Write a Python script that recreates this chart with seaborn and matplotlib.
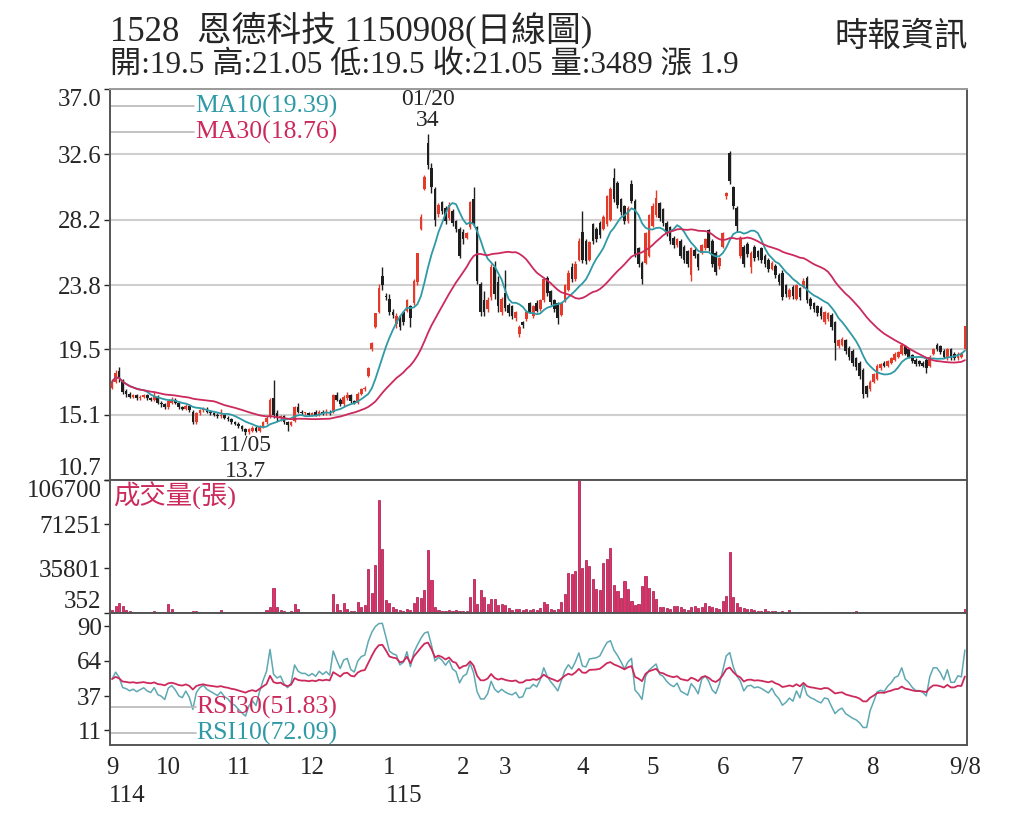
import numpy as np
import pandas as pd
import seaborn as sns
import matplotlib
matplotlib.use('Agg')
import matplotlib.pyplot as plt

# %% Daily data (one row per trading day, 114/09 .. 115/09/08).

opens = [
    16.9, 17.3, 18.0, 17.4, 16.7, 16.5, 16.3, 16.4, 16.2, 16.3, 16.4, 16.2, 16.1, 16.3, 15.9, 15.8,  # Sep
    15.6, 15.9, 16.1, 15.9, 15.6, 15.5, 15.7, 15.3, 14.6, 15.2, 15.4, 15.5, 15.3, 15.2, 15.1, 15.0, 15.1, 14.9, 14.8, 14.6,  # Oct
    14.5, 14.3, 14.1, 13.9, 14.0, 14.2, 14.0, 14.3, 14.6, 15.0, 16.2, 15.2, 14.9, 15.0, 14.6, 14.4, 14.7, 15.6, 15.3, 15.2, 15.2,  # Nov
    15.1, 15.3, 15.1, 15.3, 15.2, 15.3, 15.3, 16.4, 16.1, 15.8, 16.2, 16.4, 16.0, 15.9, 16.5, 16.8, 17.7, 19.5, 21.0, 22.0, 24.4, 23.1,  # Dec
    22.9, 22.0, 21.2, 21.7, 22.0, 22.1, 22.4, 22.6, 24.0, 27.6, 30.3, 33.4, 31.7, 30.3, 28.6, 29.4, 29.0, 28.3, 28.8, 28.1, 27.6,  # Jan
    27.4, 27.0, 27.7, 29.6, 27.7, 23.9, 22.8, 22.2, 23.0, 25.0, 24.0, 22.0,  # Feb
    23.3, 22.5, 22.4, 21.6, 20.5, 21.3, 21.5, 22.6, 21.7, 22.6, 22.2, 22.8, 24.3, 23.4, 22.8, 22.6, 21.8, 22.8, 23.5, 25.0, 24.2, 25.5,  # Mar
    27.4, 26.8, 25.5, 27.9, 27.6, 28.0, 27.6, 27.9, 28.2, 31.0, 30.7, 29.6, 29.1, 28.1, 30.6, 29.5, 26.3, 25.3, 25.3, 25.8,  # Apr
    27.8, 28.5, 29.3, 28.9, 28.0, 27.7, 27.0, 26.5, 26.8, 26.4, 26.1, 24.5, 26.2, 25.9, 26.0, 26.3, 27.5, 26.8, 26.0, 25.1,  # May
    26.4, 29.8, 32.7, 30.4, 29.0, 25.8, 26.4, 26.6, 25.0, 26.4, 26.1, 26.3, 25.8, 25.5, 24.9, 25.1, 24.5, 24.6, 23.8, 23.0, 23.7,  # Jun
    22.9, 23.6, 23.7, 24.3, 22.9, 22.6, 22.4, 22.3, 21.3, 21.5, 21.8, 21.3, 19.7, 19.8, 20.1, 19.6, 19.4, 18.9, 18.6, 18.1, 17.0, 16.8,  # Jul
    17.3, 17.5, 18.2, 18.6, 18.4, 18.6, 18.8, 19.0, 19.2, 19.7, 19.5, 19.1, 18.8, 18.7, 18.6, 18.8, 18.4, 19.2, 19.8, 19.7, 19.4,  # Aug
    18.9, 19.5, 19.2, 18.9, 19.0, 19.5,  # Sep
]
closes = [
    17.3, 17.9, 17.5, 16.6, 16.5, 16.3, 16.4, 16.2, 16.3, 16.4, 16.2, 16.1, 16.3, 15.9, 15.8, 15.6,
    16.0, 16.1, 15.9, 15.6, 15.5, 15.7, 15.4, 14.6, 15.2, 15.4, 15.5, 15.3, 15.2, 15.1, 15.0, 15.1, 14.9, 14.8, 14.6, 14.5,
    14.3, 14.1, 13.9, 14.1, 14.2, 14.0, 14.3, 14.6, 14.9, 16.1, 15.1, 14.9, 15.0, 14.6, 14.4, 14.6, 15.6, 15.3, 15.2, 15.2, 15.1,
    15.2, 15.1, 15.3, 15.2, 15.3, 15.2, 16.4, 16.1, 15.8, 16.3, 16.4, 16.0, 15.9, 16.5, 16.8, 16.9, 18.2, 19.9, 21.9, 23.6, 23.8, 23.0,
    22.0, 21.8, 21.7, 21.0, 21.3, 22.8, 21.6, 24.1, 26.0, 28.4, 31.1, 31.9, 30.4, 28.2, 29.2, 28.8, 28.1, 29.2, 28.0, 27.6, 25.8,
    26.9, 27.3, 29.4, 28.0, 24.1, 22.0, 22.0, 22.8, 25.0, 23.2, 22.4, 22.9,
    22.3, 21.9, 21.7, 22.0, 21.0, 21.1, 22.0, 22.0, 22.4, 22.1, 22.8, 24.2, 23.3, 22.7, 22.2, 21.6, 22.6, 23.8, 24.6, 24.2, 25.2, 26.8,
    25.5, 25.4, 26.7, 26.8, 26.9, 27.2, 28.4, 29.8, 30.3, 29.6, 29.2, 28.7, 28.1, 29.0, 29.5, 25.9, 25.2, 24.2, 27.3, 28.5,
    29.1, 29.7, 28.3, 28.0, 27.3, 26.8, 26.5, 26.9, 25.8, 25.5, 25.2, 26.3, 25.8, 25.0, 26.5, 26.9, 26.3, 25.2, 24.7, 25.6,
    27.3, 30.0, 30.8, 29.1, 27.8, 27.0, 25.2, 25.9, 26.0, 25.6, 25.7, 25.5, 25.2, 24.9, 25.3, 24.5, 24.0, 23.0, 23.2, 23.5, 23.1,
    23.8, 23.0, 24.1, 22.8, 22.4, 22.2, 21.9, 21.7, 22.0, 21.9, 21.0, 19.9, 20.1, 20.2, 19.4, 19.0, 18.6, 18.3, 17.7, 16.5, 16.5, 17.3,
    17.8, 18.4, 18.5, 18.4, 18.7, 18.9, 19.2, 19.3, 19.8, 19.2, 19.0, 18.7, 18.5, 18.5, 18.4, 18.2, 19.0, 19.5, 19.5, 19.3, 19.0,
    19.5, 18.9, 18.9, 19.2, 19.15, 21.05,
]
highs = [
    17.5, 18.1, 18.3, 17.5, 16.8, 16.6, 16.5, 16.5, 16.4, 16.5, 16.5, 16.3, 16.6, 16.4, 16.0, 15.9,
    16.1, 16.3, 16.2, 16.0, 15.7, 15.8, 15.8, 15.4, 15.3, 15.5, 15.6, 15.6, 15.4, 15.3, 15.2, 15.5, 15.2, 15.0, 14.9, 14.7,
    14.6, 14.4, 14.2, 14.2, 14.3, 14.3, 14.4, 14.7, 15.0, 16.2, 17.4, 15.4, 15.1, 15.1, 14.7, 14.7, 15.7, 15.9, 15.4, 15.3, 15.3,
    15.3, 15.4, 15.4, 15.4, 15.5, 15.4, 16.5, 16.6, 16.2, 16.4, 16.6, 16.5, 16.1, 16.6, 16.9, 17.0, 18.3, 20.0, 21.9, 23.9, 25.0, 23.3,
    23.2, 22.2, 21.9, 21.8, 22.1, 22.9, 22.5, 24.2, 26.0, 28.6, 31.2, 34.0, 32.0, 30.4, 29.3, 29.5, 29.1, 29.4, 28.9, 28.2, 27.7,
    27.6, 27.4, 29.5, 30.4, 27.8, 24.0, 23.4, 23.0, 25.2, 25.4, 24.4, 23.0,
    24.8, 22.6, 22.5, 22.1, 21.1, 21.4, 22.1, 22.7, 22.5, 22.8, 22.9, 24.3, 24.4, 23.5, 22.9, 22.7, 22.7, 23.9, 24.8, 25.3, 25.4, 27.0,
    28.8, 26.9, 26.8, 28.0, 27.7, 28.1, 28.5, 29.9, 30.4, 31.7, 30.8, 29.7, 29.2, 29.1, 30.9, 29.6, 26.4, 25.4, 27.4, 28.6,
    29.3, 30.2, 29.4, 29.0, 28.1, 27.8, 27.1, 27.0, 26.9, 26.5, 26.2, 26.4, 26.3, 26.0, 26.6, 27.0, 27.6, 26.9, 26.1, 25.7,
    27.4, 30.1, 32.8, 30.5, 29.1, 27.1, 26.5, 26.7, 26.1, 26.5, 26.2, 26.4, 25.9, 25.6, 25.4, 25.2, 24.6, 24.8, 23.9, 23.6, 23.8,
    23.9, 23.7, 24.3, 24.4, 23.0, 22.7, 22.5, 22.4, 22.1, 22.0, 21.9, 21.4, 20.2, 20.3, 20.2, 19.7, 19.5, 19.0, 18.7, 18.2, 17.1, 17.4,
    17.9, 18.5, 18.6, 18.7, 18.8, 19.0, 19.3, 19.4, 19.9, 19.8, 19.6, 19.2, 18.9, 18.8, 18.7, 18.9, 19.1, 19.6, 19.9, 19.8, 19.5,
    19.6, 19.6, 19.3, 19.3, 19.3, 21.05,
]
lows = [
    16.8, 17.2, 17.3, 16.5, 16.3, 16.2, 16.2, 16.1, 16.1, 16.2, 16.1, 16.0, 16.0, 15.8, 15.6, 15.5,
    15.5, 15.8, 15.8, 15.5, 15.4, 15.4, 15.3, 14.5, 14.5, 15.1, 15.3, 15.2, 15.1, 15.0, 14.9, 14.9, 14.8, 14.7, 14.5, 14.4,
    14.2, 14.0, 13.7, 13.8, 13.9, 13.9, 13.9, 14.2, 14.5, 14.9, 14.9, 14.7, 14.7, 14.5, 14.0, 14.3, 14.6, 15.2, 15.1, 15.1, 15.0,
    15.0, 15.0, 15.0, 15.1, 15.1, 15.1, 15.2, 16.0, 15.7, 15.7, 16.1, 15.9, 15.8, 15.8, 16.4, 16.7, 17.6, 19.4, 20.9, 21.9, 23.5, 22.8,
    21.8, 21.6, 20.9, 20.8, 21.1, 22.0, 21.0, 22.5, 23.8, 27.5, 30.2, 31.6, 30.0, 27.8, 28.4, 28.6, 27.9, 28.2, 27.8, 27.4, 25.6,
    26.6, 26.9, 27.6, 27.8, 23.9, 21.7, 21.7, 22.0, 22.8, 22.9, 22.0, 21.8,
    22.1, 21.7, 21.5, 21.4, 20.3, 20.9, 21.4, 21.9, 21.6, 22.0, 22.1, 22.7, 23.1, 22.5, 22.0, 21.2, 21.7, 22.7, 23.4, 24.0, 24.1, 25.4,
    25.3, 25.2, 25.4, 26.6, 26.7, 27.0, 27.5, 27.8, 28.1, 29.4, 29.0, 28.5, 27.9, 28.0, 29.3, 25.7, 25.0, 23.9, 25.2, 25.7,
    27.7, 28.4, 28.1, 27.8, 27.1, 26.6, 26.3, 26.4, 25.6, 25.3, 25.0, 24.1, 25.6, 24.8, 25.9, 26.2, 26.1, 25.0, 24.5, 24.9,
    26.3, 29.6, 30.6, 28.9, 27.4, 25.6, 25.0, 25.7, 24.6, 25.4, 25.5, 25.3, 25.0, 24.7, 24.8, 24.3, 23.8, 22.8, 23.0, 22.9, 22.9,
    22.8, 22.8, 23.6, 22.6, 22.2, 22.0, 21.7, 21.5, 21.2, 21.4, 20.8, 18.8, 19.6, 19.7, 19.2, 18.8, 18.4, 18.1, 17.5, 16.2, 16.3, 16.7,
    17.2, 17.4, 18.1, 18.3, 18.3, 18.5, 18.7, 18.9, 19.1, 19.1, 18.9, 18.6, 18.4, 18.4, 18.3, 17.9, 18.3, 19.1, 19.4, 19.2, 18.9,
    18.8, 18.8, 18.8, 18.8, 18.9, 19.5,
]
volumes = [
    2700, 6000, 8000, 6000, 2100, 1500, 1200, 1000, 900, 800, 1100, 900, 1300, 1000, 800, 900,
    7500, 3000, 1200, 900, 800, 700, 900, 1500, 1300, 800, 700, 600, 800, 700, 600, 2700, 900, 700, 600, 800,
    900, 700, 1200, 800, 600, 700, 900, 1200, 2500, 4800, 20300, 4800, 2500, 1500, 1200, 1500, 7000, 3000, 1200, 900, 800,
    800, 700, 900, 1200, 800, 1000, 15500, 7000, 2800, 8000, 3500, 1500, 1500, 8500, 4800, 6400, 35200, 16000, 38200, 90800, 51500, 10700,
    8300, 5000, 3000, 2500, 2000, 3500, 2500, 8000, 12800, 12000, 18200, 50200, 26200, 5000, 2500, 1500, 1500, 2500, 2000, 2500, 2000,
    1500, 2000, 12800, 27500, 7500, 18700, 12800, 7000, 11500, 11500, 6100, 7500,
    6100, 4000, 2700, 3000, 3500, 2700, 3000, 2500, 3000, 2700, 4000, 8500, 7000, 3000, 2500, 3500, 8500, 15500, 32000, 31200, 33400, 106700,
    36000, 42700, 38000, 27200, 19200, 18200, 40000, 43200, 52000, 22700, 17400, 12000, 25900, 19200, 9300, 6700, 7500, 21400, 29400, 20000,
    17400, 11200, 5000, 4500, 4000, 3500, 6000, 5500, 4500, 3000, 2500, 4500, 5500, 4000, 5000, 8000, 5500, 4500, 4000, 3000,
    10000, 13900, 48600, 12800, 8000, 4500, 4000, 3500, 3000, 2500, 2000, 1500, 3500, 1500, 1300, 2000, 1000, 1500, 1200, 2500, 1000,
    800, 1200, 900, 700, 600, 1000, 500, 600, 500, 700, 600, 800, 500, 400, 600, 500, 700, 1500, 900, 1200, 800, 600,
    400, 500, 352, 400, 450, 380, 420, 400, 500, 360, 380, 400, 352, 380, 420, 500, 400, 380, 360, 400, 380,
    352, 400, 380, 420, 450, 3489,
]

# Trading days per month shown on the x axis.
month_labels = ['9', '10', '11', '12', '1', '2', '3', '4', '5', '6', '7', '8']
month_days = [16, 20, 21, 22, 21, 12, 22, 20, 20, 21, 22, 21, 6]
year_labels = {'9': '114', '1': '115'}

price_ticks = [10.7, 15.1, 19.5, 23.8, 28.2, 32.6, 37.0]
volume_ticks = [352, 35801, 71251, 106700]
rsi_ticks = [11, 37, 64, 90]

# %% Table and indicators.

df = pd.DataFrame({'day': np.arange(len(closes)), 'open': opens, 'close': closes,
                   'high': highs, 'low': lows, 'volume': volumes})
df['ma10'] = df['close'].rolling(10, min_periods=1).mean()
df['ma30'] = df['close'].rolling(30, min_periods=1).mean()


def rsi(series: pd.Series, n: int) -> pd.Series:
    """Wilder RSI, seeded with equal up/down averages so it starts neutral."""
    delta = series.diff().fillna(0).to_numpy()
    seed = np.abs(delta).mean() / 2
    avg_up, avg_down = seed, seed
    out = []
    for d in delta:
        avg_up = (avg_up * (n - 1) + max(d, 0)) / n
        avg_down = (avg_down * (n - 1) + max(-d, 0)) / n
        out.append(100 * avg_up / (avg_up + avg_down))
    return pd.Series(out, index=series.index)


df['rsi10'] = rsi(df['close'], 10)
df['rsi30'] = rsi(df['close'], 30)

# %% Figure.

sns.set_style('white')
plt.rcParams['font.family'] = ['Liberation Serif', 'Noto Sans CJK TC', 'DejaVu Sans']
plt.rcParams['axes.edgecolor'] = '#555555'

RED = '#e5392a'
BLACK = '#1e1e1e'
TEAL = '#2f9aa6'
CRIMSON = '#cc2a5c'
PINK = '#e0306e'
GREY_LINE = '#b8b8b8'

fig = plt.figure(figsize=(10.24, 8.19), dpi=100)
left, width = 110 / 1024, 857 / 1024
ax_p = fig.add_axes([left, 339 / 819, width, 391 / 819])
ax_v = fig.add_axes([left, 206 / 819, width, 133 / 819], sharex=ax_p)
ax_r = fig.add_axes([left, 74 / 819, width, 132 / 819], sharex=ax_p)

n_days = len(df)

# Price panel: candles.
up_day = df['close'] >= df['open']
candle_colors = np.where(up_day, RED, BLACK)
body_bottom = np.minimum(df['open'], df['close'])
body_height = np.maximum((df['close'] - df['open']).abs(), 0.07)
ax_p.vlines(df['day'], df['low'], df['high'], colors=candle_colors, linewidth=1.0, zorder=3)
ax_p.bar(df['day'], body_height, bottom=body_bottom, width=0.75, color=candle_colors, linewidth=0, zorder=4)

sns.lineplot(data=df, x='day', y='ma10', ax=ax_p, color=TEAL, linewidth=1.3, zorder=5)
sns.lineplot(data=df, x='day', y='ma30', ax=ax_p, color=CRIMSON, linewidth=1.3, zorder=5)

ax_p.set_ylim(price_ticks[0], price_ticks[-1])
ax_p.set_yticks(price_ticks)
ax_p.set_yticklabels([f'{t:.1f}' for t in price_ticks])
ax_p.yaxis.grid(True, color='#cfcfcf', linewidth=1.5)
ax_p.set_axisbelow(True)
labels = ax_p.get_yticklabels()
labels[0].set_va('bottom')
labels[-1].set_va('top')

# Legend lines for the moving averages.
for y_frac, text, color in [(0.956, 'MA10(19.39)', TEAL), (0.890, 'MA30(18.76)', CRIMSON)]:
    ax_p.plot([0, 0.098], [y_frac, y_frac], color=GREY_LINE, linewidth=1.2, transform=ax_p.transAxes)
    ax_p.text(0.099, y_frac, text, color=color, fontsize=18.5, va='center', ha='left', transform=ax_p.transAxes)

# High and low marks.
ax_p.text(90, 36.3, '01/20', fontsize=17, ha='center', va='center')
ax_p.text(90, 34.85, '34', fontsize=17, ha='center', va='center')
ax_p.text(38, 13.0, '11/05', fontsize=17, ha='center', va='center')
ax_p.text(38, 11.25, '13.7', fontsize=17, ha='center', va='center',
          bbox=dict(facecolor='white', edgecolor='none', pad=0.5), clip_on=False, zorder=6)

# Volume panel.
ax_v.bar(df['day'], df['volume'], width=0.6, color=PINK, edgecolor='#a3123f', linewidth=0.5)
ax_v.set_ylim(0, volume_ticks[-1])
ax_v.set_yticks(volume_ticks)
ax_v.set_yticklabels([str(t) for t in volume_ticks])
labels = ax_v.get_yticklabels()
labels[0].set_va('bottom')
labels[-1].set_va('top')
ax_v.text(0.003, 0.985, '成交量(張)', color=CRIMSON, fontsize=19, ha='left', va='top', transform=ax_v.transAxes)

# RSI panel.
sns.lineplot(data=df, x='day', y='rsi10', ax=ax_r, color='#5fa8b3', linewidth=1.1)
sns.lineplot(data=df, x='day', y='rsi30', ax=ax_r, color=CRIMSON, linewidth=1.3)
ax_r.set_ylim(0, 100)
ax_r.set_yticks(rsi_ticks)
ax_r.set_yticklabels([str(t) for t in rsi_ticks])
for y_frac, text, color in [(0.288, 'RSI30(51.83)', CRIMSON), (0.091, 'RSI10(72.09)', TEAL)]:
    ax_r.plot([0, 0.1], [y_frac, y_frac], color=GREY_LINE, linewidth=1.2, transform=ax_r.transAxes)
    ax_r.text(0.101, y_frac, text, color=color, fontsize=18.5, va='center', ha='left', transform=ax_r.transAxes)

# X axis: one tick per month, minor tick per day.
month_starts = np.concatenate([[0], np.cumsum(month_days)[:-1]])
tick_pos = list(month_starts[:-1]) + [n_days - 1]
tick_text = month_labels + ['9/8']
ax_r.set_xlim(-0.6, n_days - 0.4)
ax_r.set_xticks(tick_pos)
ax_r.set_xticklabels(tick_text)
ax_r.set_xticks(np.arange(n_days), minor=True)
ax_r.tick_params(axis='x', which='major', length=5, width=1.2, labelsize=18, pad=4)
ax_r.tick_params(axis='x', which='minor', length=2.5, width=0.6)
for pos, lab in zip(tick_pos, tick_text):
    if lab in year_labels:
        ax_r.text(pos - 1, -0.39, year_labels[lab], fontsize=18, ha='left', va='center',
                  transform=ax_r.get_xaxis_transform())

for ax in (ax_p, ax_v, ax_r):
    ax.set_xlabel('')
    ax.set_ylabel('')
    ax.tick_params(axis='y', labelsize=18, length=4, width=1, left=True, pad=2)
    for side in ('left', 'right', 'top', 'bottom'):
        ax.spines[side].set_visible(True)
        ax.spines[side].set_linewidth(1.4)
ax_p.spines['top'].set_color('#9a9a9a')
for ax in (ax_p, ax_v):
    ax.tick_params(axis='x', which='both', bottom=False, labelbottom=False)

# Header.
fig.text(110 / 1024, 1 - 30 / 819, '1528  恩德科技 1150908(日線圖)', fontsize=25, ha='left', va='center')
fig.text(110 / 1024, 1 - 66 / 819, '開:19.5 高:21.05 低:19.5 收:21.05 量:3489 漲 1.9', fontsize=22.5,
         ha='left', va='center')
fig.text(968 / 1024, 1 - 37 / 819, '時報資訊', fontsize=24, ha='right', va='center')

fig.savefig('out.png', dpi=100)
